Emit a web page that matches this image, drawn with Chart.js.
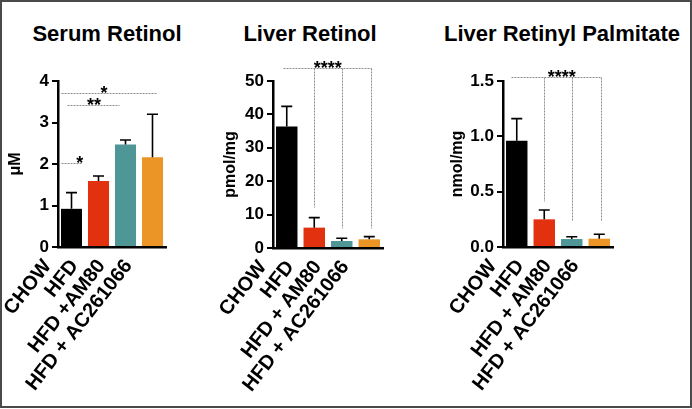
<!DOCTYPE html>
<html>
<head>
<meta charset="utf-8">
<script src="https://cdn.jsdelivr.net/npm/chart.js@4.4.1/dist/chart.umd.min.js"></script>
<style>
  body { margin: 0; background: #fff; }
  #frame { position: absolute; left: 0; top: 0; width: 692px; height: 408px; box-sizing: border-box; border: 2px solid #4a4a4a; }
  .panel { position: absolute; top: 0; }
  .title { position: absolute; top: 21px; font: bold 22px 'Liberation Sans', Arial, sans-serif; white-space: nowrap; transform: translateX(-50%); color: #000; }
</style>
</head>
<body>
<div id="frame"></div>
<div class="title" style="left:107px">Serum Retinol</div>
<div class="title" style="left:310px">Liver Retinol</div>
<div class="title" style="left:562px">Liver Retinyl Palmitate</div>
<canvas id="serum" class="panel" style="left:0px" width="215" height="406"></canvas>
<canvas id="liverRet" class="panel" style="left:215px" width="227" height="406"></canvas>
<canvas id="liverRp" class="panel" style="left:442px" width="250" height="406"></canvas>
<script>
const groups = ["CHOW", "HFD", "HFD + AM80", "HFD + AC261066"];
const serumGroups = ["CHOW", "HFD", "HFD +AM80", "HFD + AC261066"];
const barColors = ["#000000", "#e2310f", "#4f9696", "#ea9526"];

// means and top of the error bars
const serumMean = [0.92, 1.59, 2.47, 2.16];
const serumUpper = [1.31, 1.71, 2.58, 3.2];
const liverRetMean = [36.4, 6.1, 2.1, 2.6];
const liverRetUpper = [42.4, 9.1, 2.9, 3.4];
const liverRpMean = [0.96, 0.25, 0.072, 0.075];
const liverRpUpper = [1.16, 0.334, 0.093, 0.115];

// significance brackets (x in category units)
const serumSigFrom = [-0.39, -0.17, -0.39];
const serumSigTo = [3.17, 1.76, 0.39];
const serumSigY = [3.7, 3.42, 2.02];
const serumSigText = ["*", "**", "*"];
const serumStarX = [1.2, 0.83, 0.31];

const liverRetSigY = 53.9;
const liverRetDrop = [12.3, 6, 6];
const liverRpSigY = 1.54;
const liverRpDrop = [0.42, 0.245, 0.245];
const dropX = [1, 2, 3.08];

const FONT = "'Liberation Sans', Arial, sans-serif";

const errorBars = {
  id: "errorBars",
  afterDatasetsDraw(chart, args, opts) {
    const ctx = chart.ctx;
    const y = chart.scales.y;
    ctx.save();
    ctx.strokeStyle = "#000";
    ctx.lineWidth = 1.6;
    chart.getDatasetMeta(0).data.forEach((bar, i) => {
      const top = y.getPixelForValue(opts.upper[i]);
      ctx.beginPath();
      ctx.moveTo(bar.x, bar.y);
      ctx.lineTo(bar.x, top);
      ctx.moveTo(bar.x - 5.5, top);
      ctx.lineTo(bar.x + 5.5, top);
      ctx.stroke();
    });
    ctx.restore();
  }
};

const sigMarks = {
  id: "sigMarks",
  afterDraw(chart, args, opts) {
    const ctx = chart.ctx;
    const { x, y } = chart.scales;
    ctx.save();
    ctx.strokeStyle = "#8c8c8c";
    ctx.lineWidth = 1;
    ctx.setLineDash([2, 1]);
    opts.lines.forEach(l => {
      ctx.beginPath();
      ctx.moveTo(Math.round(x.getPixelForValue(l[0])) + 0.5, Math.round(y.getPixelForValue(l[1])) + 0.5);
      ctx.lineTo(Math.round(x.getPixelForValue(l[2])) + 0.5, Math.round(y.getPixelForValue(l[3])) + 0.5);
      ctx.stroke();
    });
    ctx.setLineDash([]);
    ctx.fillStyle = "#000";
    ctx.font = "bold 18px " + FONT;
    ctx.textAlign = "center";
    ctx.textBaseline = "alphabetic";
    opts.stars.forEach(s => {
      ctx.fillText(s[2], x.getPixelForValue(s[0]), y.getPixelForValue(s[1]) + 6);
    });
    ctx.restore();
  }
};

function makeChart(id, labels, mean, upper, yMax, yStep, yTitle, yWidth, padRight, xHeight, decimals, lines, stars) {
  return new Chart(document.getElementById(id), {
    type: "bar",
    data: {
      labels: labels,
      datasets: [{
        data: mean,
        backgroundColor: barColors,
        borderWidth: 0,
        barPercentage: 0.78,
        categoryPercentage: 1
      }]
    },
    options: {
      responsive: false,
      animation: false,
      layout: { padding: { top: 81, left: 0, right: padRight, bottom: 0 } },
      plugins: {
        legend: { display: false },
        tooltip: { enabled: false },
        errorBars: { upper: upper },
        sigMarks: { lines: lines, stars: stars }
      },
      scales: {
        x: {
          grid: { display: false },
          border: { display: true, color: "#000", width: 2.5 },
          ticks: {
            color: "#000",
            font: { family: FONT, size: 20, weight: "bold" },
            minRotation: 52,
            maxRotation: 52,
            labelOffset: -24,
            padding: 0,
            autoSkip: false
          },
          afterFit: s => { s.height = xHeight; s.paddingLeft = 0; s.paddingRight = 0; }
        },
        y: {
          min: 0,
          max: yMax,
          grid: { display: true, drawOnChartArea: false, drawTicks: true, tickLength: 6, color: "#000", lineWidth: 2 },
          border: { display: true, color: "#000", width: 2.5 },
          ticks: {
            stepSize: yStep,
            color: "#000",
            padding: 3,
            font: { family: FONT, size: 17, weight: "bold" },
            callback: v => v.toFixed(decimals)
          },
          title: {
            display: true,
            text: yTitle,
            color: "#000",
            font: { family: FONT, size: 16, weight: "bold" },
            padding: { top: 6, bottom: 0 }
          },
          afterFit: s => { s.width = yWidth; s.paddingTop = 0; s.paddingBottom = 0; }
        }
      }
    },
    plugins: [errorBars, sigMarks]
  });
}

makeChart("serum", serumGroups, serumMean, serumUpper, 4, 1, "\u03bcM", 58, 49, 159, 0,
  serumSigY.map((v, i) => [serumSigFrom[i], v, serumSigTo[i], v]),
  serumSigY.map((v, i) => [serumStarX[i], v, serumSigText[i]]));

makeChart("liverRet", groups, liverRetMean, liverRetUpper, 50, 10, "pmol/mg", 58, 59, 158, 0,
  [[-0.15, liverRetSigY, dropX[2], liverRetSigY]].concat(dropX.map((x, i) => [x, liverRetSigY, x, liverRetDrop[i]])),
  [[1.49, liverRetSigY, "****"]]);

makeChart("liverRp", groups, liverRpMean, liverRpUpper, 1.5, 0.5, "nmol/mg", 61, 79, 159, 1,
  [[-0.2, liverRpSigY, dropX[2], liverRpSigY]].concat(dropX.map((x, i) => [x, liverRpSigY, x, liverRpDrop[i]])),
  [[1.64, liverRpSigY, "****"]]);
</script>
</body>
</html>
